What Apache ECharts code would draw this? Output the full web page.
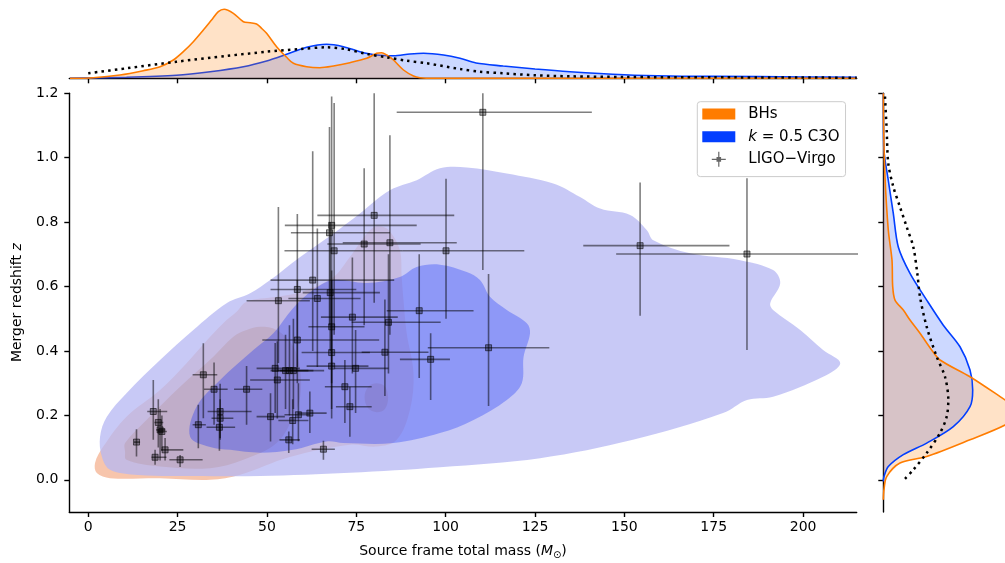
<!DOCTYPE html>
<html>
<head>
<meta charset="utf-8">
<title>Merger redshift vs total mass</title>
<script src="https://cdn.jsdelivr.net/npm/echarts@6.0.0/dist/echarts.min.js"></script>
<style>
html, body { margin: 0; padding: 0; background: #fff; }
#chart { width: 1005px; height: 563px; }
</style>
</head>
<body>
<div id="chart"></div>
<script>
"use strict";

var massTicks = [0, 25, 50, 75, 100, 125, 150, 175, 200];
var zTicks = [0, 0.2, 0.4, 0.6, 0.8, 1.0, 1.2];

// filled KDE levels, points are [total mass, z]
var bhsOuter = [[1.9,0.052],[2.4,0.021],[6.1,0.005],[20.1,0.005],[34.1,0.0],[42.5,0.016],[56.4,0.071],[73.2,0.109],[80.7,0.103],[86.3,0.124],[90.0,0.217],[91.0,0.331],[89.1,0.455],[88.2,0.558],[87.7,0.630],[87.2,0.713],[84.5,0.770],[82.6,0.785],[79.4,0.781],[73.2,0.692],[68.5,0.629],[60.0,0.585],[52.7,0.568],[44.3,0.553],[41.5,0.522],[38.7,0.496],[34.1,0.444],[27.5,0.362],[20.1,0.279],[10.7,0.196],[4.2,0.103]];
var bhsInner = [[10.3,0.088],[10.3,0.114],[16.3,0.186],[25.7,0.289],[35.0,0.382],[40.6,0.444],[44.3,0.465],[48.1,0.475],[52.7,0.465],[57.4,0.413],[59.3,0.341],[59.3,0.258],[57.4,0.196],[52.7,0.114],[43.4,0.062],[34.1,0.036],[20.1,0.041],[10.7,0.062]];
var bhsIsland = [[80.7,0.300],[83.0,0.290],[83.9,0.255],[83.0,0.220],[80.7,0.210],[78.3,0.222],[77.3,0.258],[78.4,0.290]];
var c3oOuter = [[3.8,0.072],[6.1,0.031],[14.0,0.015],[29.3,0.012],[48.1,0.012],[73.2,0.022],[98.4,0.039],[126.4,0.067],[152.4,0.124],[177.6,0.207],[184.3,0.248],[191.6,0.258],[205.6,0.320],[210.4,0.362],[205.6,0.403],[199.2,0.465],[191.6,0.527],[190.8,0.548],[193.6,0.610],[191.6,0.651],[182.4,0.682],[168.4,0.703],[158.1,0.744],[156.3,0.775],[151.6,0.822],[143.2,0.842],[137.6,0.878],[130.1,0.920],[117.1,0.951],[105.9,0.970],[98.4,0.967],[91.9,0.930],[84.4,0.899],[76.0,0.827],[68.6,0.765],[59.3,0.692],[50.9,0.620],[45.3,0.579],[38.7,0.548],[29.4,0.465],[20.1,0.372],[10.7,0.269],[5.2,0.196],[3.3,0.134]];
var c3oInner = [[28.5,0.134],[30.3,0.227],[36.9,0.310],[46.2,0.403],[51.8,0.455],[57.3,0.533],[62.9,0.589],[68.5,0.620],[77.9,0.611],[87.2,0.630],[91.9,0.661],[98.4,0.668],[105.9,0.645],[109.6,0.620],[112.4,0.568],[117.1,0.527],[122.7,0.486],[123.6,0.455],[121.8,0.382],[121.3,0.300],[117.1,0.248],[107.8,0.186],[98.4,0.145],[85.4,0.114],[71.4,0.114],[66.7,0.119],[57.3,0.093],[48.1,0.084],[39.7,0.093],[34.1,0.102]];

// marginal densities (relative units): top = [mass, density], right = [density, z]
var bhsMassKde = [[-5.1,0],[1.4,0.6],[8.9,3.3],[15.4,7.6],[20.1,11.6],[23.8,18.3],[26.6,26.6],[29.4,36.6],[32.2,48.3],[34.5,58.3],[36.4,66.6],[38.0,69],[40.6,65],[43.4,56.6],[45.3,55.6],[47.1,54.3],[48.5,50],[49.9,45],[52.7,31.6],[55.5,21],[57.4,15],[61.1,11.6],[64.8,10.6],[68.6,12.3],[73.2,15.6],[77.9,20],[80.7,25],[82.1,25.6],[83.5,23.3],[85.4,18.3],[88.2,8.3],[91.0,2.3],[92.8,0.6],[96,0],[215,0]];
var c3oMassKde = [[-5.1,0],[10.7,1],[24.7,3],[34.1,6.6],[43.4,11.6],[49.9,17.3],[55.5,24],[61.1,31],[66.7,34],[71.4,31.6],[76.0,26.6],[80.7,23.3],[85.4,22.6],[90.0,24.3],[93.8,25],[99.4,23.3],[104.0,20],[108.5,15.3],[116.1,12.3],[125.0,9.3],[134.8,6.6],[150.0,3.6],[162.8,2.3],[174.8,2],[200.0,1.3],[215.0,1]];
var ligoMassKde = [[0,5],[10.7,10],[24.7,16.6],[38.7,22.3],[49.9,26.6],[59.3,29.3],[66.7,31],[72.3,29],[77.9,24.3],[83.5,21],[89.1,17.6],[94.7,15],[104.0,9.3],[109.6,6.6],[116.1,5],[125.0,3],[134.8,2],[150.0,1.3],[175.0,1],[215.0,0.6]];
var bhsZKde = [[0,1.2],[0.3,1.1],[1.7,0.941],[5,0.775],[8.7,0.682],[9.4,0.6],[11.7,0.558],[20,0.527],[26.7,0.496],[36.7,0.455],[48.4,0.403],[56.7,0.372],[86.7,0.32],[121.7,0.248],[140,0.21],[121.7,0.17],[86.7,0.124],[43.4,0.072],[16.7,0.052],[3.4,0.01],[0.7,-0.03],[0,-0.062]];
var c3oZKde = [[0,1.2],[0.5,1.03],[5,0.93],[10,0.827],[15,0.723],[26.7,0.641],[43.4,0.558],[60,0.48],[76.7,0.413],[86.7,0.341],[89.4,0.279],[86.7,0.227],[70,0.165],[43.4,0.114],[20,0.078],[5,0.041],[0.7,0.01],[0,-0.005]];
var ligoZKde = [[1.7,1.19],[3.4,1.085],[5,0.982],[10,0.91],[16.7,0.847],[23.4,0.785],[30,0.723],[34,0.641],[36.7,0.568],[43.4,0.475],[53.4,0.382],[61.7,0.32],[65,0.248],[63.4,0.196],[56.7,0.145],[43.4,0.083],[30,0.031],[21.7,0.003]];

// LIGO-Virgo events: total mass and redshift with 90% bounds
var ligoMass = [13.5,18.2,18.7,19.6,20.1,20.6,21.5,25.7,30.8,32.2,35.2,36.9,36.9,36.7,44.3,51.0,52.3,52.9,53.2,55.2,56.3,57.4,56.1,57.2,58.8,58.5,58.5,62.0,62.8,64.1,65.8,68.1,67.5,68.8,68.1,68.1,68.1,71.8,73.2,73.9,74.8,77.2,84.4,84.0,83.0,92.6,95.8,100.1,154.4,184.3,112.0,110.4,80.0,67.7];
var ligoMassLow = [12.8,16.5,17.7,18.5,19.0,19.4,20.4,22.7,29.2,29.2,32.4,33.4,34.5,33.1,40.8,47.1,47.1,45.3,44.3,53.7,51.0,53.0,53.5,53.2,54.9,48.7,51.0,58.6,51.0,56.0,62.5,55.0,56.7,54.9,61.6,59.7,61.1,66.2,69.3,65.1,69.0,66.9,71.2,73.7,76.5,83.5,87.2,88.0,138.5,147.7,95.0,86.3,64.1,60.0];
var ligoMassHigh = [14.5,22.1,21.9,21.0,21.5,22.0,26.6,32.0,32.9,36.1,39.0,45.7,40.6,41.1,48.7,55.0,59.2,62.0,62.0,61.6,63.0,66.0,59.2,61.6,62.0,81.4,75.0,66.7,85.6,76.2,69.0,91.9,84.4,88.0,77.3,78.8,78.4,79.3,79.3,86.6,84.0,93.0,103.1,98.6,95.2,107.8,101.2,122.0,179.4,225.0,129.0,140.9,102.4,81.6];
var ligoZ = [0.117,0.212,0.070,0.178,0.155,0.150,0.093,0.062,0.171,0.326,0.281,0.212,0.191,0.163,0.281,0.196,0.346,0.310,0.556,0.339,0.339,0.339,0.124,0.184,0.202,0.434,0.591,0.207,0.620,0.563,0.095,0.790,0.767,0.711,0.475,0.395,0.353,0.289,0.227,0.505,0.346,0.732,0.736,0.489,0.396,0.525,0.374,0.711,0.727,0.701,0.410,1.141,0.821,0.581];
var ligoZLow = [0.072,0.124,0.047,0.10,0.06,0.09,0.06,0.04,0.098,0.191,0.171,0.124,0.13,0.09,0.171,0.119,0.207,0.19,0.363,0.22,0.20,0.22,0.083,0.11,0.12,0.30,0.35,0.145,0.40,0.35,0.062,0.50,0.48,0.45,0.30,0.19,0.22,0.176,0.134,0.33,0.207,0.48,0.45,0.33,0.26,0.316,0.248,0.50,0.509,0.403,0.229,0.651,0.55,0.40];
var ligoZHigh = [0.157,0.31,0.093,0.25,0.22,0.20,0.13,0.077,0.233,0.424,0.364,0.298,0.25,0.22,0.353,0.269,0.425,0.43,0.847,0.45,0.48,0.50,0.15,0.25,0.30,0.62,0.825,0.274,1.02,0.78,0.121,1.19,1.095,1.17,0.65,0.62,0.50,0.372,0.289,0.69,0.465,0.967,1.07,0.70,0.56,0.70,0.455,0.935,0.923,0.936,0.639,1.30,1.30,0.80];

var BHS = "BHs", C3O = "k = 0.5 C3O", LIGO = "LIGO\u2212Virgo";
var ORANGE = "#ff7c00", BLUE = "#023eff";
var FONT = "DejaVu Sans";
// legend patches: 33x11 bar inside a 33x15 box, errorbar glyph 14x15
var patchIcon = "path://M0,0h0.01v0.01h-0.01z M0,14.99h0.01v0.01h-0.01z M0,2h33v11h-33z";
var errIcon = "path://M0,0h0.01v0.01h-0.01z M33,14.99h0.01v0.01h-0.01z M9.5,6.9h14v1.2h-14z M15.9,0h1.2v15h-1.2z M14.2,5.2h4.6v4.6h-4.6z";

var chart = echarts.init(document.getElementById("chart"), null, { renderer: "canvas" });

function contour(name, polys, fill, z) {
    return {
        type: "custom", name: name, xAxisIndex: 0, yAxisIndex: 0, z: z, clip: true, silent: true,
        data: polys.map(function(p, i) { return [i]; }),
        renderItem: function(params, api) {
            var pts = polys[params.dataIndex].map(function(p) { return api.coord(p); });
            return { type: "polygon", shape: { points: pts, smooth: 0.35 }, style: { fill: fill } };
        }
    };
}

// right marginal is filled toward the z axis, so drawn as a polygon
function zFill(curve, fill, z) {
    var closed = curve.concat([[0, curve[curve.length - 1][1]], [0, curve[0][1]]]);
    return {
        type: "custom", xAxisIndex: 2, yAxisIndex: 2, z: z, clip: true, silent: true, data: [[0]],
        renderItem: function(params, api) {
            return { type: "polygon", shape: { points: closed.map(function(p) { return api.coord(p); }) }, style: { fill: fill } };
        }
    };
}

function kdeLine(curve, idx, color, dotted, fill, z) {
    var s = {
        type: "line", xAxisIndex: idx, yAxisIndex: idx, data: curve, showSymbol: false, smooth: 0.3,
        silent: true, z: z, clip: true,
        lineStyle: dotted ? { color: "#000", width: 2.5, type: [2.5, 4.2], cap: "butt" } : { color: color, width: 1.6 }
    };
    if (fill) { s.areaStyle = { color: fill, opacity: 1 }; }
    return s;
}

var ligoData = ligoMass.map(function(m, i) { return [m, ligoZ[i]]; });

var ligoSeries = {
    type: "custom", name: LIGO, xAxisIndex: 0, yAxisIndex: 0, z: 5, clip: true, silent: true,
    data: ligoData, encode: { x: 0, y: 1 },
    renderItem: function(params, api) {
        var i = params.dataIndex;
        var c = api.coord([ligoMass[i], ligoZ[i]]);
        var l = api.coord([ligoMassLow[i], ligoZ[i]]);
        var r = api.coord([ligoMassHigh[i], ligoZ[i]]);
        var b = api.coord([ligoMass[i], ligoZLow[i]]);
        var t = api.coord([ligoMass[i], ligoZHigh[i]]);
        var bar = { stroke: "rgba(0,0,0,0.5)", lineWidth: 1.6 };
        return {
            type: "group",
            children: [
                { type: "line", shape: { x1: l[0], y1: c[1], x2: r[0], y2: c[1] }, style: bar },
                { type: "line", shape: { x1: c[0], y1: b[1], x2: c[0], y2: t[1] }, style: bar },
                { type: "rect", shape: { x: c[0] - 3, y: c[1] - 3, width: 6, height: 6 },
                  style: { fill: "rgba(0,0,0,0.35)", stroke: "rgba(0,0,0,0.55)", lineWidth: 1 } }
            ]
        };
    }
};

var axisLine = { show: true, onZero: false, lineStyle: { color: "#000", width: 1.4 } };
var tickStyle = { color: "#000", width: 1.4 };

var option = {
    animation: false,
    backgroundColor: "#fff",
    textStyle: { fontFamily: FONT },
    grid: [
        { left: 69.3, top: 93.3, width: 787.4, height: 418.7, outerBoundsMode: "none" },
        { left: 69.3, top: 5, width: 787.4, height: 73.3, outerBoundsMode: "none" },
        { left: 883.3, top: 93.3, width: 160, height: 418.7, outerBoundsMode: "none" }
    ],
    xAxis: [
        {
            gridIndex: 0, type: "value", min: -5.3, max: 215, splitLine: { show: false },
            axisLine: axisLine,
            axisTick: { show: true, customValues: massTicks, length: 5, lineStyle: tickStyle },
            axisLabel: { customValues: massTicks, color: "#000", fontSize: 14, fontFamily: FONT, margin: 8 },
            name: "Source frame total mass ({i|M}{s|\u2299})", nameLocation: "middle", nameGap: 31,
            nameTextStyle: {
                color: "#000", fontSize: 14, fontFamily: FONT,
                rich: {
                    i: { fontStyle: "italic", fontSize: 14, fontFamily: FONT, color: "#000" },
                    s: { fontSize: 10, fontFamily: FONT, color: "#000", padding: [7, 0, 0, 0] }
                }
            }
        },
        {
            gridIndex: 1, type: "value", min: -5.3, max: 215, splitLine: { show: false },
            axisLine: axisLine,
            axisTick: { show: true, customValues: massTicks, length: 5, lineStyle: tickStyle },
            axisLabel: { show: false }
        },
        { gridIndex: 2, type: "value", min: 0, max: 160, show: false }
    ],
    yAxis: [
        {
            gridIndex: 0, type: "value", min: -0.1, max: 1.2, splitLine: { show: false },
            axisLine: axisLine,
            axisTick: { show: true, customValues: zTicks, length: 5, lineStyle: tickStyle },
            axisLabel: {
                customValues: zTicks, color: "#000", fontSize: 14, fontFamily: FONT, margin: 11,
                formatter: function(v) { return v.toFixed(1); }
            },
            name: "Merger redshift {i|z}", nameLocation: "middle", nameGap: 45, nameRotate: 90,
            nameTextStyle: {
                color: "#000", fontSize: 14, fontFamily: FONT,
                rich: { i: { fontStyle: "italic", fontSize: 14, fontFamily: FONT, color: "#000" } }
            }
        },
        { gridIndex: 1, type: "value", min: 0, max: 73.3, show: false },
        {
            gridIndex: 2, type: "value", min: -0.1, max: 1.2, splitLine: { show: false },
            axisLine: axisLine,
            axisTick: { show: true, customValues: zTicks, length: 5, lineStyle: tickStyle },
            axisLabel: { show: false }
        }
    ],
    legend: {
        orient: "vertical", left: 697.3, top: 101.7, z: 20,
        backgroundColor: "rgba(255,255,255,0.8)", borderColor: "#ccc", borderWidth: 1, borderRadius: 3,
        padding: [3, 6, 8, 5], itemGap: 4.2, itemWidth: 33, itemHeight: 15, selectedMode: false,
        textStyle: {
            color: "#000", fontSize: 15, fontFamily: FONT, lineHeight: 18.5, padding: [0, 0, 0, 8],
            rich: { i: { fontStyle: "italic", fontSize: 15, fontFamily: FONT, color: "#000" } }
        },
        formatter: function(name) { return name === C3O ? "{i|k} = 0.5 C3O" : name; },
        data: [
            { name: BHS, icon: patchIcon, itemStyle: { color: ORANGE } },
            { name: C3O, icon: patchIcon, itemStyle: { color: BLUE } },
            { name: LIGO, icon: errIcon, itemStyle: { color: "rgba(0,0,0,0.6)" } }
        ]
    },
    series: [
        contour(BHS, [bhsOuter], "rgba(240,140,90,0.5)", 1),
        contour(BHS, [bhsInner, bhsIsland], "rgba(200,100,0,0.55)", 2),
        contour(C3O, [c3oOuter], "rgba(182,183,243,0.75)", 3),
        contour(C3O, [c3oInner], "rgba(10,40,250,0.3)", 4),
        ligoSeries,
        kdeLine(c3oMassKde, 1, BLUE, false, "rgba(2,62,255,0.2)", 2),
        kdeLine(bhsMassKde, 1, ORANGE, false, "rgba(255,124,0,0.22)", 3),
        kdeLine(ligoMassKde, 1, "#000", true, null, 4),
        zFill(c3oZKde, "rgba(2,62,255,0.2)", 1),
        zFill(bhsZKde, "rgba(255,124,0,0.22)", 2),
        kdeLine(c3oZKde, 2, BLUE, false, null, 3),
        kdeLine(bhsZKde, 2, ORANGE, false, null, 3),
        kdeLine(ligoZKde, 2, "#000", true, null, 4)
    ]
};

chart.setOption(option);
</script>
</body>
</html>
